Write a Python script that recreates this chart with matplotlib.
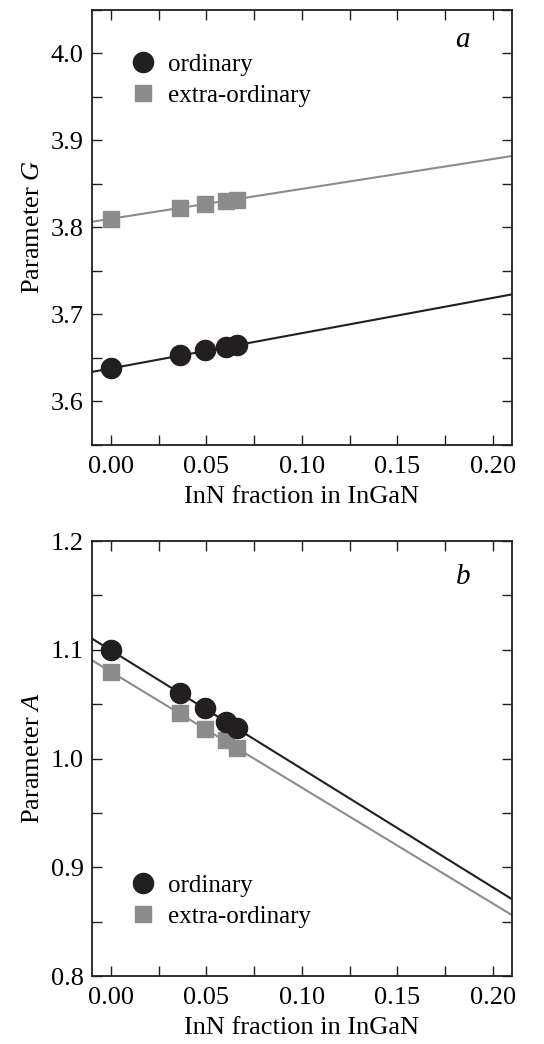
import numpy as np
import matplotlib
matplotlib.use("Agg")
import matplotlib.pyplot as plt
from matplotlib.ticker import MultipleLocator

plt.rcParams['font.family'] = ['Liberation Serif', 'DejaVu Serif']
plt.rcParams['mathtext.fontset'] = 'custom'
plt.rcParams['mathtext.it'] = 'Liberation Serif:italic'
plt.rcParams['mathtext.rm'] = 'Liberation Serif'

# InN fraction
x_inn = [0.0, 0.036, 0.049, 0.060, 0.066]

# panel a: parameter G
G_ord = [3.638, 3.653, 3.659, 3.663, 3.665]
G_ext = [3.810, 3.822, 3.827, 3.830, 3.832]
G_ord_fit = (3.638, 0.405)   # intercept, slope
G_ext_fit = (3.810, 0.343)

# panel b: parameter A
A_ord = [1.100, 1.060, 1.046, 1.034, 1.028]
A_ext = [1.080, 1.042, 1.027, 1.017, 1.010]
A_ord_fit = (1.0994, -1.089)
A_ext_fit = (1.0797, -1.065)

black = '#231f20'
gray = '#8c8c8c'

fig = plt.figure(figsize=(5.44, 10.44), dpi=100)
ax1 = fig.add_axes([0.169, 0.5738, 0.772, 0.4167])
ax2 = fig.add_axes([0.169, 0.0651, 0.772, 0.4167])

xl = np.array([-0.01, 0.21])

def panel(ax, yo, ye, fo, fe, ylim, major, minor, ylabel, letter, legpos):
    ax.plot(xl, fe[0] + fe[1] * xl, color=gray, lw=1.5, zorder=1)
    ax.plot(xl, fo[0] + fo[1] * xl, color=black, lw=1.5, zorder=1)
    ax.plot(x_inn, yo, 'o', color=black, ms=14.5, mec=black, label='ordinary', zorder=3)
    ax.plot(x_inn, ye, 's', color=gray, ms=12, mec=gray, label='extra-ordinary', zorder=2)
    ax.set_xlim(-0.01, 0.21)
    ax.set_ylim(*ylim)
    ax.xaxis.set_major_locator(MultipleLocator(0.05))
    ax.xaxis.set_minor_locator(MultipleLocator(0.025))
    ax.yaxis.set_major_locator(MultipleLocator(major))
    ax.yaxis.set_minor_locator(MultipleLocator(minor))
    ax.xaxis.set_major_formatter(matplotlib.ticker.FormatStrFormatter('%.2f'))
    ax.yaxis.set_major_formatter(matplotlib.ticker.FormatStrFormatter('%.1f'))
    ax.tick_params(which='both', direction='in', top=True, right=True,
                   length=7, width=1.0, labelsize=19, pad=6, color=black)
    ax.tick_params(axis='x', pad=8)
    for s in ax.spines.values():
        s.set_linewidth(1.3)
        s.set_color(black)
    ax.set_xlabel('InN fraction in InGaN', fontsize=19, labelpad=6)
    ax.set_ylabel(ylabel, fontsize=19, labelpad=5)
    ax.text(0.883, legpos[2], letter, transform=ax.transAxes, fontsize=21,
            style='italic', ha='center', va='center')
    ax.legend(loc='upper left', bbox_to_anchor=(legpos[0], legpos[1]), frameon=False,
              fontsize=18, handlelength=0.8, handletextpad=0.6, labelspacing=0.33,
              borderpad=0, borderaxespad=0)

panel(ax1, G_ord, G_ext, G_ord_fit, G_ext_fit, (3.55, 4.05), 0.1, 0.05,
      'Parameter $G$', 'a', (0.097, 0.9, 0.931))
panel(ax2, A_ord, A_ext, A_ord_fit, A_ext_fit, (0.8, 1.2), 0.1, 0.05,
      'Parameter $A$', 'b', (0.097, 0.233, 0.917))

fig.savefig('out.png', dpi=100)
